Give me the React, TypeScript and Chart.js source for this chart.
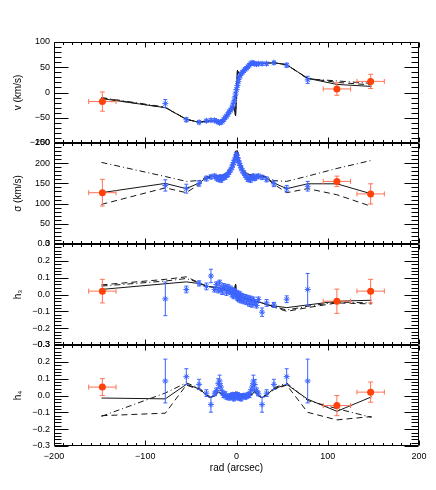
import React, { useEffect, useRef } from 'react';
import { Chart, registerables } from 'chart.js';

Chart.register(...registerables);

const W = 436;
const H = 490;
const FONT = "'Liberation Sans', Arial, Helvetica, sans-serif";
const BLUE = 'rgb(60,100,255)';
const ORANGE = 'rgb(255,66,10)';
const ORANGE_ERR = 'rgb(255,115,85)';
const MODEL = '#151515';

// ---------- data ----------
const xTickValues = [-200, -100, 0, 100, 200];
const xTitle = 'rad (arcsec)';

// blue (inner kinematics) radii
const blueR = [-78, -55, -41, -33, -28,
  -24, -22, -20, -18.5, -17, -15.5, -14, -12.5, -11, -9.5, -8, -6.5, -5,
  -4, -3, -2, -1, 0, 1, 2, 3, 4,
  5, 6.5, 8, 9.5, 11, 12.5, 14, 15.5, 17, 18.5, 20, 22, 24,
  28, 33, 41, 55, 78];

const blueV = [-22, -54, -59, -56, -55,
  -55, -57, -58, -60, -59, -57, -54, -50, -47, -43, -38, -35, -31,
  -25, -19, -11, -3, 6, 14, 22, 29, 34,
  37, 40, 43, 46, 48, 51, 54, 57, 59, 58, 57, 56, 57,
  57, 57, 59, 54, 25];
const blueVErr = [8, 4, 3, 3, 3,
  3, 3, 3, 3, 3, 3, 3, 3, 3, 3, 3, 3, 3,
  3, 3, 3, 3, 3, 3, 3, 3, 3,
  3, 3, 3, 3, 3, 3, 3, 3, 3, 3, 3, 3, 3,
  3, 3, 3, 4, 7];

const blueSig = [145, 137, 150, 162, 166,
  168, 163, 160, 165, 158, 162, 167, 165, 170, 172, 178, 183, 190,
  196, 202, 208, 215, 222, 214, 207, 200, 194,
  188, 181, 176, 170, 166, 160, 163, 158, 165, 168, 162, 166, 168,
  165, 160, 149, 137, 143];
const blueSigErr = [14, 11, 7, 6, 5,
  5, 5, 5, 5, 5, 5, 5, 5, 5, 5, 5, 5, 5,
  5, 5, 5, 5, 5, 5, 5, 5, 5,
  5, 5, 5, 5, 5, 5, 5, 5, 5, 5, 5, 5, 5,
  5, 6, 7, 8, 12];

const blueH3 = [-0.026, 0.03, 0.066, 0.048, 0.11,
  0.03, 0.06, 0.025, 0.07, 0.035, 0.015, 0.05, 0.04, 0.01, 0.045, 0.02, 0.035, 0.0,
  0.025, -0.01, 0.02, 0.0, 0.01, -0.02, 0.005, -0.03, 0.0,
  -0.035, -0.01, -0.04, -0.015, -0.045, -0.02, -0.055, -0.025, -0.06, -0.03, -0.05, -0.065, -0.03,
  -0.105, -0.05, -0.062, -0.028, 0.03];
const blueH3Err = [0.1, 0.02, 0.015, 0.02, 0.04,
  0.015, 0.015, 0.015, 0.015, 0.015, 0.015, 0.015, 0.015, 0.015, 0.015, 0.015, 0.015, 0.015,
  0.015, 0.015, 0.015, 0.015, 0.015, 0.015, 0.015, 0.015, 0.015,
  0.015, 0.015, 0.015, 0.015, 0.015, 0.015, 0.015, 0.015, 0.015, 0.015, 0.015, 0.015, 0.015,
  0.025, 0.02, 0.015, 0.02, 0.095];

const blueH4 = [0.086, 0.112, 0.066, 0.014, -0.054,
  0.01, 0.03, 0.07, 0.086, 0.05, 0.02, 0.0, 0.01, -0.01, -0.005, -0.015, 0.0, -0.01,
  0.005, -0.02, -0.005, 0.0, -0.01, 0.005, -0.015, 0.0, -0.01,
  -0.02, -0.005, 0.0, -0.01, -0.005, 0.005, 0.0, 0.025, 0.05, 0.086, 0.065, 0.03, 0.01,
  -0.054, 0.014, 0.066, 0.112, 0.086];
const blueH4Err = [0.13, 0.047, 0.03, 0.02, 0.045,
  0.012, 0.015, 0.03, 0.035, 0.02, 0.012, 0.012, 0.012, 0.012, 0.012, 0.012, 0.012, 0.012,
  0.012, 0.012, 0.012, 0.012, 0.012, 0.012, 0.012, 0.012, 0.012,
  0.012, 0.012, 0.012, 0.012, 0.012, 0.012, 0.012, 0.012, 0.02, 0.035, 0.03, 0.015, 0.012,
  0.045, 0.02, 0.03, 0.047, 0.13];

// orange (outer) points
const orangeR = [-147, 110, 147];
const orangeRErr = [15, 15, 15];
const orangeV = [-18, 7, 22];
const orangeVErr = [19, 12.5, 14];
const orangeSig = [127, 155, 124];
const orangeSigErr = [33, 13, 25];
const orangeH3 = [0.02, -0.04, 0.02];
const orangeH3Err = [0.07, 0.072, 0.07];
const orangeH4 = [0.05, -0.06, 0.02];
const orangeH4Err = [0.05, 0.06, 0.06];

// model curves
const modelR = [-148, -78, -55, -41, -33, -28, -20, -14, -8, -3, -1, 1, 3, 8, 14, 20, 28, 33, 41, 55, 78, 110, 148];

const vSolid = [-12, -30, -53, -59, -57, -56, -58, -55, -42, -28, -46, 44, 36, 44, 53, 58, 58, 58, 59, 55, 28, 16, 12];
const vDash = [-11, -30, -53, -59, -57, -56, -58, -55, -42, -28, -46, 44, 36, 44, 53, 58, 58, 58, 59, 55, 28, 20, 15];
const vDashDot = [-10, -29, -53, -59, -57, -56, -58, -55, -42, -28, -46, 44, 36, 44, 53, 58, 58, 58, 59, 55, 27, 23, 18];

const sSolid = [127, 150, 137, 151, 164, 168, 168, 170, 180, 200, 230, 230, 200, 180, 170, 168, 168, 164, 151, 137, 149, 149, 124];
const sDash = [98, 139, 127, 148, 162, 166, 166, 168, 178, 198, 230, 230, 198, 178, 168, 166, 166, 162, 148, 127, 137, 122, 93];
const sDashDot = [202, 167, 155, 157, 166, 170, 170, 172, 182, 202, 232, 232, 202, 182, 172, 170, 170, 166, 157, 155, 168, 187, 207];

const h3Solid = [0.03, 0.064, 0.075, 0.065, 0.05, 0.045, 0.04, 0.03, 0.02, 0.01, 0.06, -0.04, -0.01, -0.02, -0.03, -0.04, -0.05, -0.06, -0.068, -0.078, -0.062, -0.04, -0.034];
const h3Dash = [0.057, 0.09, 0.105, 0.07, 0.05, 0.045, 0.04, 0.03, 0.02, 0.01, 0.06, -0.04, -0.01, -0.02, -0.03, -0.04, -0.05, -0.06, -0.075, -0.1, -0.078, -0.05, -0.056];
const h3DashDot = [0.05, 0.08, 0.095, 0.07, 0.05, 0.045, 0.04, 0.03, 0.02, 0.01, 0.06, -0.04, -0.01, -0.02, -0.03, -0.04, -0.05, -0.06, -0.072, -0.092, -0.07, -0.045, -0.05];

const h4Solid = [-0.015, -0.02, 0.066, 0.04, 0.004, -0.014, 0.02, 0.0, 0.0, 0.005, 0.02, 0.02, 0.005, 0.0, 0.0, 0.02, -0.014, 0.004, 0.04, 0.066, -0.022, -0.094, -0.008];
const h4Dash = [-0.12, -0.105, 0.062, 0.035, 0.0, -0.018, 0.016, -0.004, -0.004, 0.0, 0.016, 0.016, 0.0, -0.004, -0.004, 0.016, -0.018, 0.0, 0.035, 0.062, -0.1, -0.145, -0.125];
const h4DashDot = [-0.124, 0.015, 0.075, 0.045, 0.008, -0.01, 0.024, 0.004, 0.004, 0.008, 0.024, 0.024, 0.008, 0.004, 0.004, 0.024, -0.01, 0.008, 0.045, 0.075, -0.03, -0.078, -0.13];

// ---------- helpers ----------
const fmt = (v: number, d: number) => {
  const a = Math.abs(v) < 1e-9 ? 0 : v;
  const s = Math.abs(a).toFixed(d);
  return a < 0 ? '\u2212' + s : s;
};

const pts = (xs: number[], ys: number[]) => xs.map((x, i) => ({ x, y: ys[i] }));

const framePlugin = {
  id: 'idlFrame',
  afterDraw(chart: any, _args: any, opts: any) {
    const { ctx, chartArea: a, scales } = chart;
    const xs = scales.x;
    const ys = scales.y;
    const L = Math.round(a.left) + 0.5;
    const R = Math.round(a.right) - 0.5;
    const T = Math.round(a.top) + 0.5;
    const B = Math.round(a.bottom) - 0.5;
    ctx.save();
    ctx.strokeStyle = '#000';
    ctx.lineWidth = 1;
    ctx.beginPath();
    ctx.rect(L, T, R - L, B - T);
    for (let k = -20; k <= 20; k++) {
      const v = k * 10;
      const px = Math.round(xs.getPixelForValue(v)) + 0.5;
      const len = k % 10 === 0 ? 5 : 2.5;
      ctx.moveTo(px, B);
      ctx.lineTo(px, B - len);
      ctx.moveTo(px, T);
      ctx.lineTo(px, T + len);
    }
    const n = Math.round((opts.max - opts.min) / opts.minor);
    for (let k = 0; k <= n; k++) {
      const v = opts.min + k * opts.minor;
      const r = v / opts.major;
      const major = Math.abs(r - Math.round(r)) < 1e-6;
      const py = Math.round(ys.getPixelForValue(v)) + 0.5;
      const len = major ? 14 : 7;
      ctx.moveTo(L, py);
      ctx.lineTo(L + len, py);
      ctx.moveTo(R, py);
      ctx.lineTo(R - len, py);
    }
    ctx.stroke();
    ctx.restore();
  },
};

const errorBarPlugin = {
  id: 'errBars',
  beforeDatasetDraw(chart: any, args: any) {
    const ds = chart.data.datasets[args.index];
    if (!ds.errY && !ds.errX) return;
    const { ctx, scales } = chart;
    const xs = scales.x;
    const ys = scales.y;
    const cap = ds.capW || 2;
    ctx.save();
    ctx.strokeStyle = ds.errColor;
    ctx.lineWidth = 1;
    ctx.beginPath();
    ds.data.forEach((d: any, i: number) => {
      const px = xs.getPixelForValue(d.x);
      const py = ys.getPixelForValue(d.y);
      if (ds.errY) {
        const y1 = ys.getPixelForValue(d.y + ds.errY[i]);
        const y2 = ys.getPixelForValue(d.y - ds.errY[i]);
        ctx.moveTo(px, y1);
        ctx.lineTo(px, y2);
        ctx.moveTo(px - cap, y1);
        ctx.lineTo(px + cap, y1);
        ctx.moveTo(px - cap, y2);
        ctx.lineTo(px + cap, y2);
      }
      if (ds.errX) {
        const x1 = xs.getPixelForValue(d.x - ds.errX[i]);
        const x2 = xs.getPixelForValue(d.x + ds.errX[i]);
        ctx.moveTo(x1, py);
        ctx.lineTo(x2, py);
        ctx.moveTo(x1, py - cap);
        ctx.lineTo(x1, py + cap);
        ctx.moveTo(x2, py - cap);
        ctx.lineTo(x2, py + cap);
      }
    });
    ctx.stroke();
    ctx.restore();
  },
};

type Spec = {
  top: number;
  bottom: number;
  yMin: number;
  yMax: number;
  yStep: number;
  yMinor: number;
  decimals: number;
  yTitle: string;
  showX: boolean;
  blueY: number[];
  blueErr: number[];
  orY: number[];
  orErr: number[];
  mSolid: number[];
  mDash: number[];
  mDashDot: number[];
};

const X_AXIS_H = 32;

function buildConfig(s: Spec): any {
  const font = { family: FONT, size: 9 };
  const titleFont = { family: FONT, size: 10 };
  const lineDs = (ys: number[], dash: number[]) => ({
    data: pts(modelR, ys),
    showLine: true,
    pointRadius: 0,
    borderColor: MODEL,
    borderWidth: 1,
    borderDash: dash,
    fill: false,
    tension: 0,
    order: 2,
  });
  const datasets = [
    lineDs(s.mSolid, []),
    lineDs(s.mDash, [6, 4]),
    lineDs(s.mDashDot, [6, 3, 1, 3]),
    {
      data: pts(blueR, s.blueY),
      showLine: false,
      pointStyle: 'star',
      pointRadius: 3,
      borderColor: BLUE,
      backgroundColor: BLUE,
      borderWidth: 1,
      errY: s.blueErr,
      errColor: BLUE,
      capW: 2,
      order: 1,
    },
    {
      data: pts(orangeR, s.orY),
      showLine: false,
      pointStyle: 'circle',
      pointRadius: 3.5,
      borderColor: ORANGE,
      backgroundColor: ORANGE,
      borderWidth: 0,
      errY: s.orErr,
      errX: orangeRErr,
      errColor: ORANGE_ERR,
      capW: 2.5,
      order: 0,
    },
  ];
  const xScale: any = {
    type: 'linear',
    min: xTickValues[0],
    max: xTickValues[xTickValues.length - 1],
    display: s.showX,
    grid: { display: false, drawTicks: false },
    border: { display: false },
    ticks: {
      stepSize: 100,
      padding: 5,
      font,
      color: '#000',
      maxRotation: 0,
      autoSkip: false,
      callback: (v: number) => fmt(v, 0),
    },
    title: { display: s.showX, text: xTitle, font: titleFont, color: '#000', padding: { top: 0, bottom: 4 } },
  };
  if (s.showX) {
    xScale.afterFit = (sc: any) => {
      sc.height = X_AXIS_H;
    };
  }
  return {
    type: 'scatter',
    data: { datasets },
    plugins: [errorBarPlugin, framePlugin],
    options: {
      responsive: false,
      maintainAspectRatio: false,
      animation: false,
      devicePixelRatio: 1,
      events: [],
      layout: {
        padding: {
          left: 5,
          right: W - 419,
          top: s.top,
          bottom: s.showX ? H - s.bottom - X_AXIS_H : H - s.bottom,
        },
      },
      plugins: {
        legend: { display: false },
        tooltip: { enabled: false },
        idlFrame: { min: s.yMin, max: s.yMax, major: s.yStep, minor: s.yMinor },
      },
      scales: {
        x: xScale,
        y: {
          type: 'linear',
          min: s.yMin,
          max: s.yMax,
          grid: { display: false, drawTicks: false },
          border: { display: false },
          ticks: {
            stepSize: s.yStep,
            padding: 4,
            font,
            color: '#000',
            autoSkip: false,
            callback: (v: number) => fmt(v, s.decimals),
          },
          title: { display: true, text: s.yTitle, font: titleFont, color: '#000', padding: { top: 7, bottom: 0 } },
          afterFit: (sc: any) => {
            sc.width = 49;
          },
        },
      },
    },
  };
}

const specs: Spec[] = [
  {
    top: 42, bottom: 143, yMin: -100, yMax: 100, yStep: 50, yMinor: 10, decimals: 0,
    yTitle: 'v (km/s)', showX: false,
    blueY: blueV, blueErr: blueVErr, orY: orangeV, orErr: orangeVErr,
    mSolid: vSolid, mDash: vDash, mDashDot: vDashDot,
  },
  {
    top: 143, bottom: 244, yMin: 0, yMax: 250, yStep: 50, yMinor: 10, decimals: 0,
    yTitle: '\u03c3 (km/s)', showX: false,
    blueY: blueSig, blueErr: blueSigErr, orY: orangeSig, orErr: orangeSigErr,
    mSolid: sSolid, mDash: sDash, mDashDot: sDashDot,
  },
  {
    top: 244, bottom: 345, yMin: -0.3, yMax: 0.3, yStep: 0.1, yMinor: 0.02, decimals: 1,
    yTitle: 'h\u2083', showX: false,
    blueY: blueH3, blueErr: blueH3Err, orY: orangeH3, orErr: orangeH3Err,
    mSolid: h3Solid, mDash: h3Dash, mDashDot: h3DashDot,
  },
  {
    top: 345, bottom: 446, yMin: -0.3, yMax: 0.3, yStep: 0.1, yMinor: 0.02, decimals: 1,
    yTitle: 'h\u2084', showX: true,
    blueY: blueH4, blueErr: blueH4Err, orY: orangeH4, orErr: orangeH4Err,
    mSolid: h4Solid, mDash: h4Dash, mDashDot: h4DashDot,
  },
];

function Panel({ spec }: { spec: Spec }) {
  const ref = useRef<HTMLCanvasElement>(null);
  useEffect(() => {
    if (!ref.current) return;
    const chart = new Chart(ref.current, buildConfig(spec));
    return () => chart.destroy();
  }, [spec]);
  return (
    <canvas
      ref={ref}
      width={W}
      height={H}
      style={{ position: 'absolute', left: 0, top: 0, width: W, height: H, display: 'block' }}
    />
  );
}

export default function App() {
  return (
    <div style={{ position: 'absolute', left: 0, top: 0, width: W, height: H, background: '#fff', overflow: 'hidden' }}>
      {specs.map((s, i) => (
        <Panel key={i} spec={s} />
      ))}
    </div>
  );
}
